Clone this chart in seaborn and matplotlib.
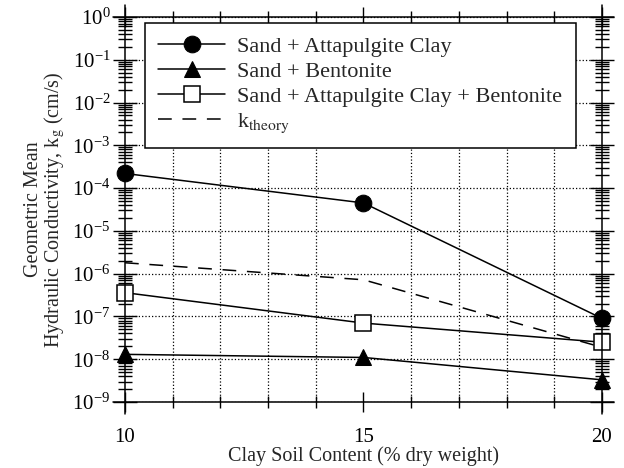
import numpy as np
import pandas as pd
import seaborn as sns
import matplotlib.pyplot as plt
from matplotlib.lines import Line2D
from matplotlib.ticker import LogLocator, FixedLocator, NullFormatter

clay_content = [10, 15, 20]
attapulgite = [2.2e-4, 4.5e-5, 9e-8]
bentonite = [1.3e-8, 1.1e-8, 3.3e-9]
att_bent = [3.6e-7, 7e-8, 2.5e-8]
k_theory = [1.8e-6, 7.2e-7, 1.9e-8]

sns.set_theme(style="white")
plt.rcParams["font.family"] = ["Liberation Serif", "DejaVu Serif"]
plt.rcParams["mathtext.fontset"] = "stix"

fig = plt.figure(figsize=(6.24, 4.68), dpi=100)
ax = fig.add_axes([0.2003, 0.141, 0.7644, 0.8227])

lw = 1.1
sns.lineplot(x=clay_content, y=attapulgite, ax=ax, color="black", lw=lw,
             marker="o", markersize=12, markerfacecolor="black",
             markeredgecolor="black", label="Sand + Attapulgite Clay",
             clip_on=False, zorder=5)
sns.lineplot(x=clay_content, y=bentonite, ax=ax, color="black", lw=lw,
             marker="^", markersize=12, markerfacecolor="black",
             markeredgecolor="black", label="Sand + Bentonite",
             clip_on=False, zorder=5)
sns.lineplot(x=clay_content, y=att_bent, ax=ax, color="black", lw=lw,
             marker="s", markersize=11, markerfacecolor="white",
             markeredgecolor="black", markeredgewidth=1.1,
             label="Sand + Attapulgite Clay + Bentonite",
             clip_on=False, zorder=5)
sns.lineplot(x=clay_content, y=k_theory, ax=ax, color="black", lw=lw,
             linestyle=(0, (9, 7)), label="k$_{\\mathrm{theory}}$", zorder=4)

ax.set_yscale("log")
ax.set_xlim(10, 20)
ax.set_ylim(1e-9, 1)

ax.xaxis.set_major_locator(FixedLocator([10, 15, 20]))
ax.xaxis.set_minor_locator(FixedLocator(list(range(10, 21))))
ax.yaxis.set_major_locator(LogLocator(base=10, numticks=20))
ax.yaxis.set_minor_locator(LogLocator(base=10, subs=np.arange(2, 10), numticks=20))
ax.yaxis.set_minor_formatter(NullFormatter())

ax.grid(True, which="major", axis="y", color="black", linestyle=":", lw=0.9)
ax.grid(True, which="minor", axis="x", color="black", linestyle=":", lw=0.9)

for s in ax.spines.values():
    s.set_visible(False)

# frame lines that run a little past the corners
frame = dict(color="black", lw=1.1, transform=ax.transAxes, clip_on=False, zorder=6)
ax.add_line(Line2D([-0.025, 1.025], [0, 0], **frame))
ax.add_line(Line2D([-0.025, 1.025], [1, 1], **frame))
ax.add_line(Line2D([0, 0], [-0.03, 1.03], **frame))
ax.add_line(Line2D([1, 1], [-0.03, 1.03], **frame))

ax.tick_params(which="both", direction="inout", colors="black",
               top=True, right=True, bottom=True, left=True, width=1.0)
ax.tick_params(axis="y", which="major", length=17, labelsize=15, pad=2)
ax.tick_params(axis="y", which="minor", length=10)
ax.tick_params(axis="x", which="major", length=14, labelsize=15, pad=12)
ax.tick_params(axis="x", which="minor", length=8)

ax.set_xlabel("Clay Soil Content (% dry weight)", fontsize=14.5, labelpad=-1)
ax.set_ylabel("Geometric Mean\nHydraulic Conductivity, k$_{\\mathrm{g}}$ (cm/s)",
              fontsize=14.5, labelpad=4, linespacing=0.95)

leg = ax.legend(loc="upper left", bbox_to_anchor=(0.042, 0.985), fontsize=16,
                frameon=True, fancybox=False, edgecolor="black", framealpha=1,
                handlelength=3.0, borderpad=0.6, labelspacing=0.2,
                handletextpad=0.55, borderaxespad=0)
leg.get_frame().set_linewidth(1.1)
leg.set_zorder(10)

fig.savefig("out.png", dpi=100)
